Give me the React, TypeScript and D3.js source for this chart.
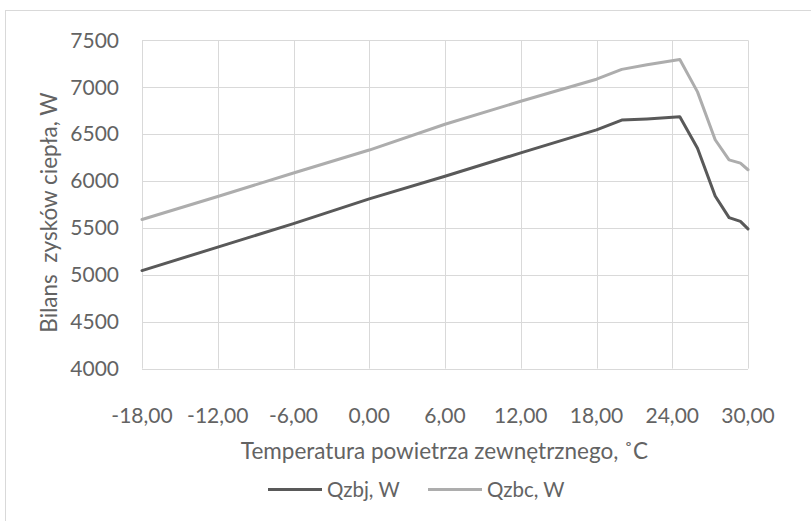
import React from "react";
import * as d3 from "d3";

const temps = [-18, -12, -6, 0, 6, 12, 18, 20, 22, 24.6, 26, 27.4, 28.5, 29.4, 30];
const qzbj = [5045, 5295, 5545, 5810, 6050, 6300, 6545, 6650, 6662, 6685, 6350, 5840, 5610, 5570, 5490];
const qzbc = [5590, 5835, 6085, 6330, 6605, 6850, 7085, 7190, 7240, 7295, 6950, 6440, 6225, 6190, 6120];
const xTicks = [-18, -12, -6, 0, 6, 12, 18, 24, 30];
const yTicks = [4000, 4500, 5000, 5500, 6000, 6500, 7000, 7500];
const seriesNames = ["Qzbj, W", "Qzbc, W"];
const xTitle = "Temperatura powietrza zewnętrznego, ˚C";
const yTitle = "Bilans  zysków ciepła, W";

const colors = ["#595959", "#adadad"];
const FONT = "Lato, 'Open Sans', sans-serif";
const TXT = "#636363";
const FW = 400;

export default function App() {
  const W = 811, H = 521;
  const left = 142, right = 748, top = 40.3, bottom = 368.6;
  const x = d3.scaleLinear().domain([-18, 30]).range([left, right]);
  const y = d3.scaleLinear().domain([4000, 7500]).range([bottom, top]);
  const line = d3.line<[number, number]>().x(d => x(d[0])).y(d => y(d[1]));
  const series = [qzbj, qzbc].map(vals => temps.map((t, i) => [t, vals[i]] as [number, number]));
  const fmt = (v: number) => v.toFixed(2).replace(".", ",");

  return (
    <svg width={W} height={H} style={{ position: "absolute", left: 0, top: 0, background: "#fff" }} fontFamily={FONT} fontWeight={FW}>
      <rect x={0} y={0} width={W} height={H} fill="#fff" />
      <rect x={5.5} y={10.5} width={900} height={700} fill="#fff" stroke="#d9d9d9" strokeWidth={1} />
      {yTicks.map(v => (
        <line key={"gy" + v} x1={left} x2={right} y1={Math.round(y(v)) + 0.5} y2={Math.round(y(v)) + 0.5} stroke="#d9d9d9" strokeWidth={1} />
      ))}
      {xTicks.map(v => (
        <line key={"gx" + v} x1={Math.round(x(v)) + 0.5} x2={Math.round(x(v)) + 0.5} y1={top} y2={bottom} stroke="#d9d9d9" strokeWidth={1} />
      ))}
      {yTicks.map(v => (
        <text key={"ty" + v} x={119} y={y(v)} dy="0.35em" textAnchor="end" fontSize={21} fill={TXT}>{v}</text>
      ))}
      {xTicks.map(v => (
        <text key={"tx" + v} x={x(v)} y={416} dy="0.35em" textAnchor="middle" fontSize={21} fill={TXT}>{fmt(v)}</text>
      ))}
      {series.map((s, i) => (
        <path key={"s" + i} d={line(s) || ""} fill="none" stroke={colors[i]} strokeWidth={3} strokeLinejoin="round" strokeLinecap="round" />
      ))}
      <text x={444.5} y={451} dy="0.35em" textAnchor="middle" fontSize={22.5} fill={TXT}>{xTitle}</text>
      <text transform={`translate(49.5,212.5) rotate(-90)`} textAnchor="middle" dy="0.35em" fontSize={22.5} fill={TXT} style={{ whiteSpace: "pre" }}>{yTitle}</text>
      <g>
        <line x1={268} x2={322} y1={489.5} y2={489.5} stroke={colors[0]} strokeWidth={3} />
        <text x={327} y={489.5} dy="0.35em" fontSize={20.5} fill={TXT}>{seriesNames[0]}</text>
        <line x1={428} x2={482} y1={489.5} y2={489.5} stroke={colors[1]} strokeWidth={3} />
        <text x={487} y={489.5} dy="0.35em" fontSize={20.5} fill={TXT}>{seriesNames[1]}</text>
      </g>
    </svg>
  );
}
